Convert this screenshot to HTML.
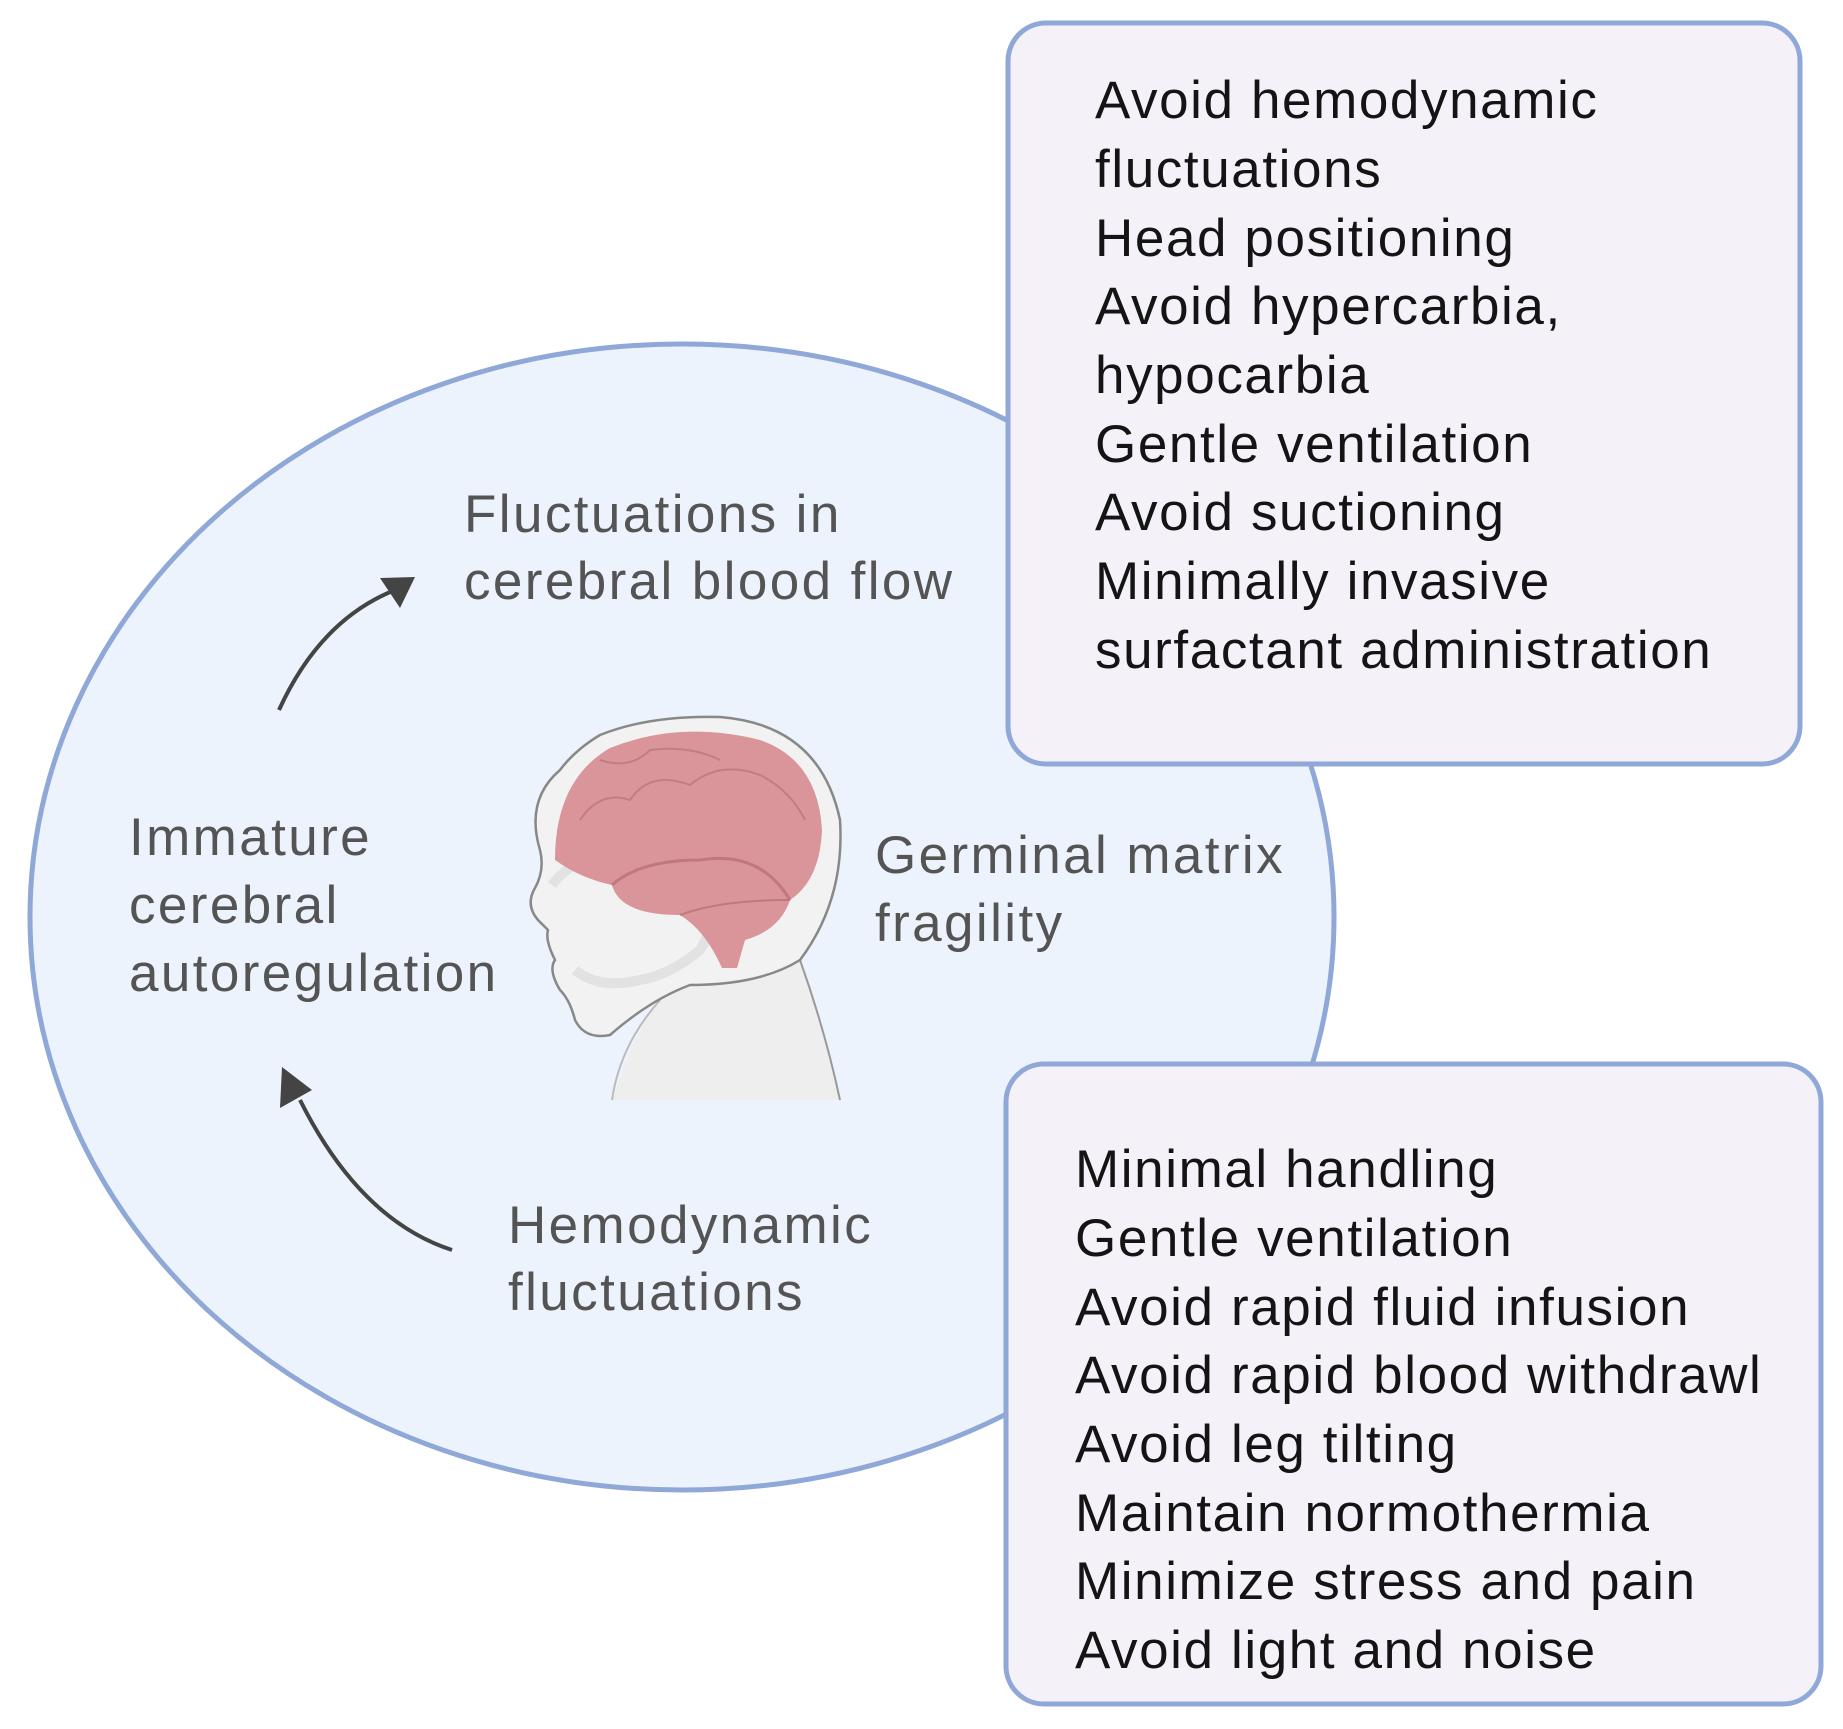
<!DOCTYPE html>
<html><head><meta charset="utf-8"><style>
html,body{margin:0;padding:0;background:#fff;}
svg{display:block;}
text{font-family:"Liberation Sans",sans-serif;font-size:53px;}
.g{fill:#545454;letter-spacing:2.4px;}
.b{fill:#141414;letter-spacing:1.6px;}
</style></head><body>
<svg width="1843" height="1729" viewBox="0 0 1843 1729" xmlns="http://www.w3.org/2000/svg">
<ellipse cx="682" cy="917" rx="652" ry="573" fill="#edf3fc" stroke="#8fa8d8" stroke-width="5"/>
<path d="M279 710 Q320 620 395 590" fill="none" stroke="#444" stroke-width="4"/>
<polygon points="415,577 380,578 400,608" fill="#444"/>
<path d="M452 1250 Q360 1220 300 1100" fill="none" stroke="#444" stroke-width="4"/>
<polygon points="282,1067 280,1108 312,1090" fill="#444"/>
<path d="M612 1100 Q640 1020 660 1000 L690 985 Q760 980 800 960 L815 1000 Q830 1060 840 1100 Z" fill="#eeeeee"/>
<path d="M660 1000 Q620 1045 612 1100" fill="none" stroke="#bbb" stroke-width="2"/>
<path d="M800 960 Q825 1030 840 1100" fill="none" stroke="#999" stroke-width="2"/>
<path d="M600 735 Q650 715 720 717 Q820 725 840 820 Q845 900 800 960 Q760 985 690 985 Q650 1000 610 1035 Q585 1040 575 1020 Q570 1000 560 990 Q548 970 555 960 Q545 940 548 930 L538 920 Q525 905 535 888 Q545 870 540 850 Q525 800 560 770 Q575 750 600 735 Z" fill="#f2f2f2" stroke="#888" stroke-width="2.5"/>
<path d="M552 885 Q570 860 640 830 Q660 850 700 880 Q720 920 700 950 Q670 975 640 980 Q600 990 575 970" fill="none" stroke="#e2e2e2" stroke-width="10"/>
<path d="M555 860 Q555 780 610 748 Q680 720 760 740 Q818 760 822 830 Q820 880 790 900 Q780 930 745 940 L737 968 L722 968 Q705 930 680 915 Q620 915 612 885 Q580 878 555 860 Z" fill="#d9959a"/>
<path d="M612 885 Q640 860 700 860 Q760 850 790 900" fill="none" stroke="#c0787e" stroke-width="3"/>
<path d="M680 915 Q720 900 790 900" fill="none" stroke="#c0787e" stroke-width="2"/>
<path d="M580 820 Q600 790 630 800 Q650 770 690 785 Q720 760 760 775 Q790 790 805 820" fill="none" stroke="#c27d83" stroke-width="2"/>
<path d="M600 760 Q630 770 650 750 Q690 745 720 760" fill="none" stroke="#c27d83" stroke-width="2"/>
<rect x="1008" y="23" width="792" height="741" rx="38" fill="#f5f1f8" stroke="#8fa8d8" stroke-width="5"/>
<g class="b">
<text x="1095" y="118">Avoid hemodynamic</text>
<text x="1095" y="187">fluctuations</text>
<text x="1095" y="256">Head positioning</text>
<text x="1095" y="324">Avoid hypercarbia,</text>
<text x="1095" y="393">hypocarbia</text>
<text x="1095" y="462">Gentle ventilation</text>
<text x="1095" y="530">Avoid suctioning</text>
<text x="1095" y="599">Minimally invasive</text>
<text x="1095" y="668">surfactant administration</text>
</g>
<rect x="1006" y="1064" width="815" height="640" rx="38" fill="#f5f1f8" stroke="#8fa8d8" stroke-width="5"/>
<g class="b">
<text x="1075" y="1187">Minimal handling</text>
<text x="1075" y="1256">Gentle ventilation</text>
<text x="1075" y="1325">Avoid rapid fluid infusion</text>
<text x="1075" y="1393">Avoid rapid blood withdrawl</text>
<text x="1075" y="1462">Avoid leg tilting</text>
<text x="1075" y="1531">Maintain normothermia</text>
<text x="1075" y="1599">Minimize stress and pain</text>
<text x="1075" y="1668">Avoid light and noise</text>
</g>
<g class="g">
<text x="464" y="532">Fluctuations in</text>
<text x="464" y="599">cerebral blood flow</text>
<text x="129" y="855">Immature</text>
<text x="129" y="923">cerebral</text>
<text x="129" y="991">autoregulation</text>
<text x="875" y="873">Germinal matrix</text>
<text x="875" y="941">fragility</text>
<text x="508" y="1243">Hemodynamic</text>
<text x="508" y="1310">fluctuations</text>
</g>
</svg>
</body></html>
